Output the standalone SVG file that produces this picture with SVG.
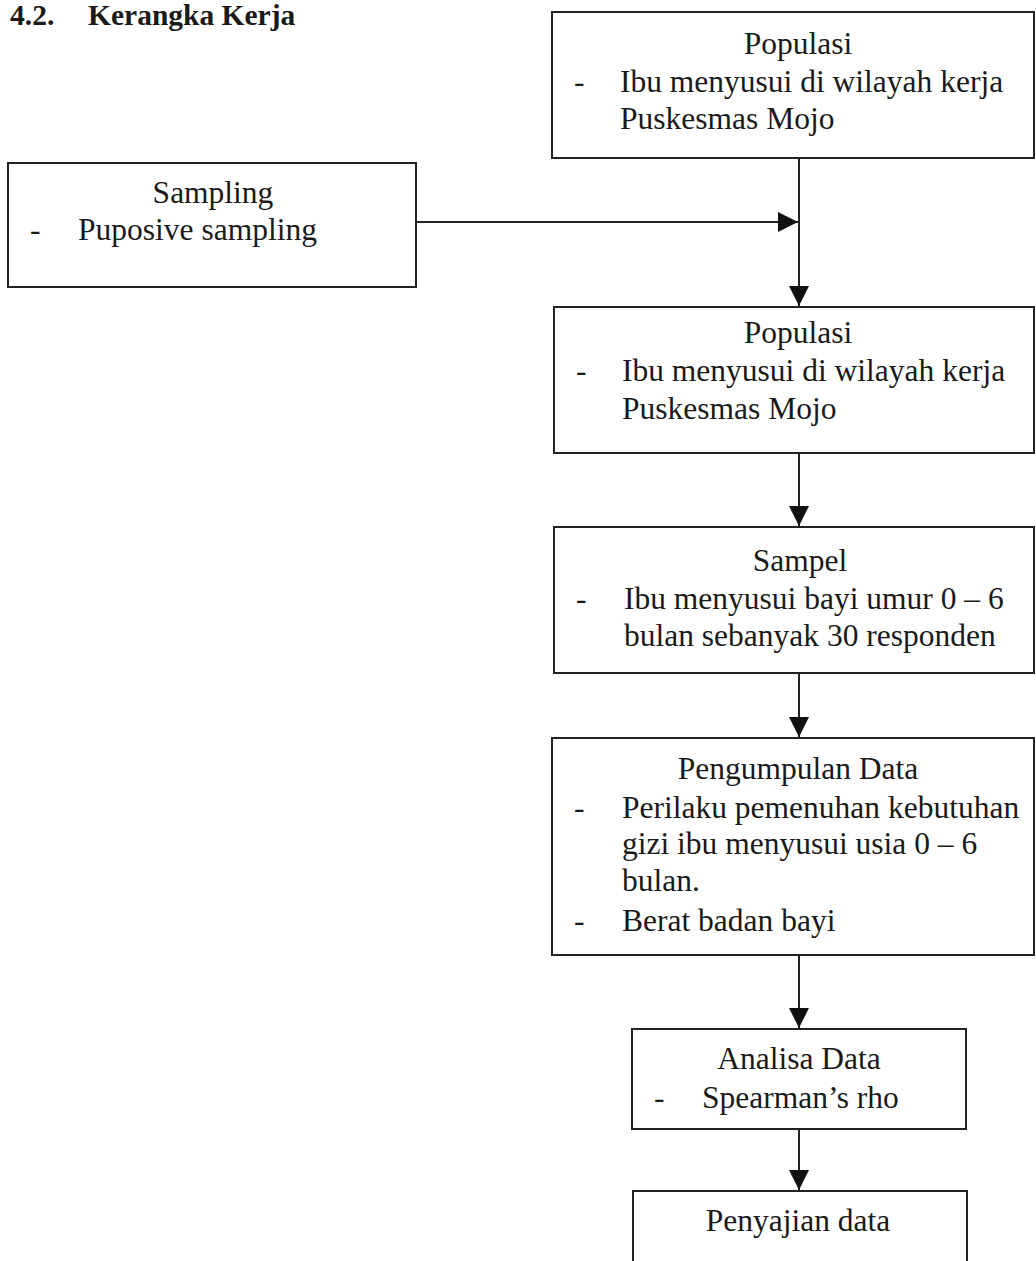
<svg xmlns="http://www.w3.org/2000/svg" width="1036" height="1261" viewBox="0 0 1036 1261">
<style>
  .box{fill:#fff;stroke:#222;stroke-width:2}
  .t{font-family:"Liberation Serif","Times New Roman",serif;font-size:31.5px;fill:#1a1a1a}
  .c{text-anchor:middle}
  .title{font-family:"Liberation Serif","Times New Roman",serif;font-size:29.5px;font-weight:bold;fill:#1a1a1a}
  .conn{stroke:#222;stroke-width:2;fill:none}
</style>
<defs>
  <marker id="ah" markerUnits="userSpaceOnUse" markerWidth="20" markerHeight="20" viewBox="0 0 20 20" refX="20" refY="10" orient="auto">
    <path d="M0,0 L20,10 L0,20 Z" fill="#111"/>
  </marker>
</defs>
<rect width="1036" height="1261" fill="#fff"/>
<text class="title" x="10" y="25">4.2.</text>
<text class="title" x="88" y="25">Kerangka Kerja</text>

<g id="connectors">
  <line class="conn" x1="799" y1="158" x2="799" y2="306" marker-end="url(#ah)"/>
  <line class="conn" x1="416" y1="222" x2="798" y2="222" marker-end="url(#ah)"/>
  <line class="conn" x1="799" y1="453" x2="799" y2="526" marker-end="url(#ah)"/>
  <line class="conn" x1="799" y1="673" x2="799" y2="737" marker-end="url(#ah)"/>
  <line class="conn" x1="799" y1="955" x2="799" y2="1028" marker-end="url(#ah)"/>
  <line class="conn" x1="799" y1="1129" x2="799" y2="1190" marker-end="url(#ah)"/>
</g>

<g id="populasi1">
  <rect class="box" x="552" y="12" width="482" height="146"/>
  <text class="t c" x="798" y="54">Populasi</text>
  <text class="t" x="574" y="92">-</text>
  <text class="t" x="620" y="92">Ibu menyusui di wilayah kerja</text>
  <text class="t" x="620" y="129">Puskesmas Mojo</text>
</g>

<g id="sampling">
  <rect class="box" x="8" y="163" width="408" height="124"/>
  <text class="t c" x="213" y="203">Sampling</text>
  <text class="t" x="30" y="240">-</text>
  <text class="t" x="78" y="240">Puposive sampling</text>
</g>

<g id="populasi2">
  <rect class="box" x="554" y="307" width="480" height="146"/>
  <text class="t c" x="798" y="343">Populasi</text>
  <text class="t" x="576" y="381">-</text>
  <text class="t" x="622" y="381">Ibu menyusui di wilayah kerja</text>
  <text class="t" x="622" y="419">Puskesmas Mojo</text>
</g>

<g id="sampel">
  <rect class="box" x="554" y="527" width="480" height="146"/>
  <text class="t c" x="800" y="571">Sampel</text>
  <text class="t" x="576" y="609">-</text>
  <text class="t" x="624" y="609">Ibu menyusui bayi umur 0 – 6</text>
  <text class="t" x="624" y="646">bulan sebanyak 30 responden</text>
</g>

<g id="pengumpulan">
  <rect class="box" x="552" y="738" width="482" height="217"/>
  <text class="t c" x="798" y="779">Pengumpulan Data</text>
  <text class="t" x="574" y="818">-</text>
  <text class="t" x="622" y="818">Perilaku pemenuhan kebutuhan</text>
  <text class="t" x="622" y="854">gizi ibu menyusui usia 0 – 6</text>
  <text class="t" x="622" y="891">bulan.</text>
  <text class="t" x="574" y="931">-</text>
  <text class="t" x="622" y="931">Berat badan bayi</text>
</g>

<g id="analisa">
  <rect class="box" x="632" y="1029" width="334" height="100"/>
  <text class="t c" x="799" y="1069">Analisa Data</text>
  <text class="t" x="654" y="1108">-</text>
  <text class="t" x="702" y="1108">Spearman’s rho</text>
</g>

<g id="penyajian">
  <path class="box" d="M633,1263 L633,1191 L967,1191 L967,1263"/>
  <text class="t c" x="798" y="1231">Penyajian data</text>
</g>
</svg>
